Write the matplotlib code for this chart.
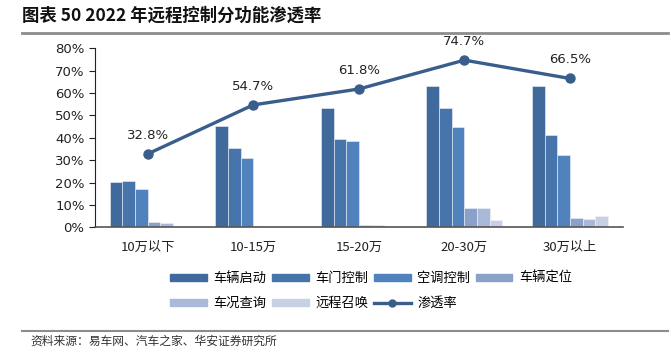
import numpy as np
import matplotlib.pyplot as plt
from matplotlib.lines import Line2D

plt.rcParams['font.family'] = ['Noto Sans CJK SC', 'DejaVu Sans']

# =========================
# DATA
# =========================
categories = ['10万以下', '10-15万', '15-20万', '20-30万', '30万以上']
series_names = ['车辆启动', '车门控制', '空调控制', '车辆定位', '车况查询', '远程召唤']
start = [20.4, 45.3, 53.3, 63.3, 63.2]
door = [20.9, 35.5, 39.3, 53.3, 41.3]
aircon = [17.3, 31.1, 38.7, 44.8, 32.3]
locate = [2.4, 0.5, 1.0, 8.8, 4.2]
status = [1.8, 0.3, 1.0, 8.8, 3.9]
summon = [0.0, 0.0, 0.7, 3.3, 4.9]
penetration = [32.8, 54.7, 61.8, 74.7, 66.5]

series = [start, door, aircon, locate, status, summon]
colors = ['#3F6A9B', '#4674AB', '#5082BE', '#8AA2C9', '#A9B9D7', '#C8D1E4']
line_color = '#3A5E8C'

# =========================
# FIGURE
# =========================
fig = plt.figure(figsize=(6.71, 3.54), dpi=100)
ax = fig.add_axes([0.1416, 0.358, 0.7864, 0.5056])

x = np.arange(len(categories))
w = 0.12
for i, vals in enumerate(series):
    ax.bar(x - 0.36 + w / 2 + i * w, np.array(vals) / 100, width=w,
           color=colors[i], edgecolor='#EEF2F8', linewidth=0.4, label=series_names[i])

ax.plot(x, np.array(penetration) / 100, color=line_color, linewidth=2.4,
        marker='o', markersize=6.5, label='渗透率', zorder=5)
for xi, v in zip(x, penetration):
    ax.text(xi, v / 100 + 0.055, f'{v}%', ha='center', va='bottom',
            fontsize=9.5, color='#222222', family=['DejaVu Sans'])

ax.set_xlim(-0.5, 4.5)
ax.set_ylim(0, 0.8)
ax.set_yticks(np.arange(0, 0.81, 0.1))
ax.set_yticklabels([f'{int(round(t * 100))}%' for t in np.arange(0, 0.81, 0.1)],
                   family=['DejaVu Sans'])
ax.set_xticks(x)
ax.set_xticklabels(categories)
ax.tick_params(axis='y', labelsize=9.5, length=4, width=0.8, colors='#222222')
ax.tick_params(axis='x', labelsize=9.5, length=0, pad=10, colors='#222222')
for s in ['top', 'right']:
    ax.spines[s].set_visible(False)
ax.spines['left'].set_color('#222222')
ax.spines['bottom'].set_color('#555555')
ax.spines['bottom'].set_linewidth(1.2)

# legend (matplotlib fills by column, so reorder to read row by row)
handles = [plt.Rectangle((0, 0), 1, 1, color=colors[i]) for i in range(6)]
handles.append(Line2D([], [], color=line_color, linewidth=2.4, marker='o', markersize=5))
labels = series_names + ['渗透率']
order = [0, 4, 1, 5, 2, 6, 3]
handles = [handles[i] for i in order]
labels = [labels[i] for i in order]
fig.legend(handles, labels, loc='center', bbox_to_anchor=(0.553, 0.178), ncol=4,
           frameon=False, fontsize=9.5, handlelength=2.8, handleheight=0.5,
           columnspacing=0.4, handletextpad=0.5, labelspacing=0.9)

# title and source
fig.text(0.033, 0.955, '图表 50 2022 年远程控制分功能渗透率', fontsize=12.5,
         fontweight='bold', ha='left', va='center', color='#111111')
fig.add_artist(Line2D([0.033, 0.996], [0.907, 0.907], color='#8C8C8C', linewidth=2))
fig.add_artist(Line2D([0.033, 0.996], [0.066, 0.066], color='#8C8C8C', linewidth=1.5))
fig.text(0.045, 0.037, '资料来源：易车网、汽车之家、华安证券研究所', fontsize=8.5,
         ha='left', va='center', color='#333333')

fig.savefig('out.png', dpi=100)
